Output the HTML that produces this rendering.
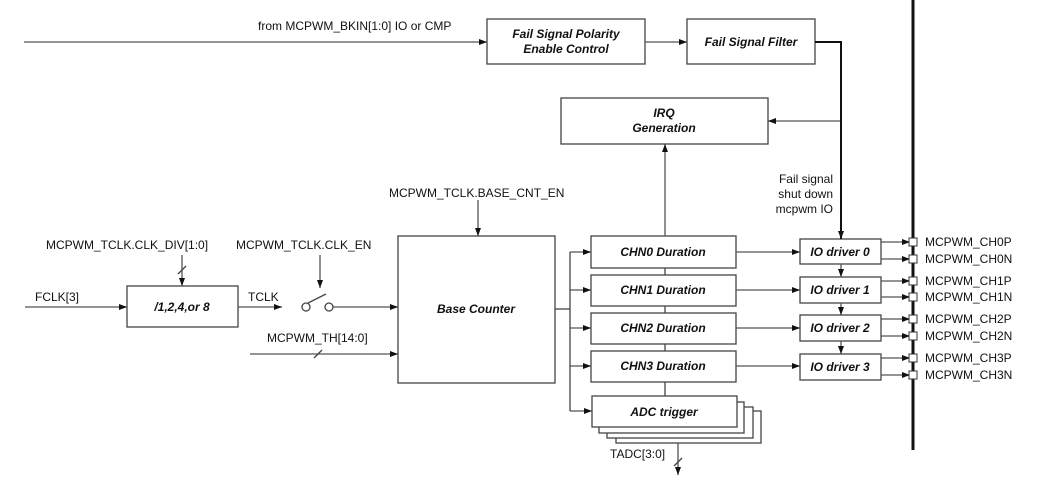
<!DOCTYPE html>
<html><head><meta charset="utf-8"><style>
html,body{margin:0;padding:0;background:#fff}
svg{display:block}
text{font-family:"Liberation Sans",Arial,sans-serif;font-size:12px;fill:#111}
.b{font-weight:bold;font-style:italic;text-anchor:middle}
</style></head><body>
<svg width="1050" height="484" viewBox="0 0 1050 484" xmlns="http://www.w3.org/2000/svg">
<defs><marker id="a" markerWidth="8" markerHeight="6" refX="8" refY="3" orient="auto" markerUnits="userSpaceOnUse"><path d="M0,0 L8,3 L0,6 z" fill="#111"/></marker></defs>
<g fill="#fff" stroke="#444" stroke-width="1.3">
<rect x="487" y="19" width="158" height="45"/>
<rect x="687" y="19" width="128" height="45"/>
<rect x="561" y="98" width="207" height="46"/>
<rect x="398" y="236" width="157" height="147"/>
<rect x="127" y="286" width="111" height="41"/>
<rect x="591" y="236" width="145" height="32"/>
<rect x="591" y="275" width="145" height="31"/>
<rect x="591" y="313" width="145" height="31"/>
<rect x="591" y="351" width="145" height="31"/>
<rect x="616" y="411" width="145" height="32"/>
<rect x="607" y="407" width="146" height="31"/>
<rect x="599" y="402" width="145" height="31"/>
<rect x="592" y="396" width="145" height="31"/>
<rect x="800" y="239" width="81" height="25"/>
<rect x="800" y="277" width="81" height="26"/>
<rect x="800" y="315" width="81" height="26"/>
<rect x="800" y="354" width="81" height="26"/>
</g>
<line x1="913" y1="0" x2="913" y2="450" stroke="#111" stroke-width="3"/>
<g stroke="#555" stroke-width="1.3" fill="none" marker-end="url(#a)">
<line x1="24" y1="42" x2="487" y2="42"/>
<line x1="645" y1="42" x2="687" y2="42"/>
<line x1="841" y1="121" x2="768" y2="121"/>
<line x1="665" y1="236" x2="665" y2="144"/>
<line x1="478" y1="200" x2="478" y2="236"/>
<line x1="25" y1="307" x2="127" y2="307"/>
<line x1="182" y1="255" x2="182" y2="286"/>
<line x1="238" y1="307" x2="282" y2="307"/>
<line x1="320" y1="255" x2="320" y2="288"/>
<line x1="333" y1="307" x2="398" y2="307"/>
<line x1="250" y1="354" x2="398" y2="354"/>
<line x1="570" y1="252" x2="591" y2="252"/>
<line x1="570" y1="290" x2="591" y2="290"/>
<line x1="570" y1="328" x2="591" y2="328"/>
<line x1="570" y1="366" x2="591" y2="366"/>
<line x1="570" y1="411" x2="592" y2="411"/>
<line x1="736" y1="252" x2="800" y2="252"/>
<line x1="736" y1="290" x2="800" y2="290"/>
<line x1="736" y1="328" x2="800" y2="328"/>
<line x1="736" y1="366" x2="800" y2="366"/>
<line x1="841" y1="264" x2="841" y2="277"/>
<line x1="841" y1="303" x2="841" y2="315"/>
<line x1="841" y1="341" x2="841" y2="354"/>
<line x1="678" y1="443" x2="678" y2="475"/>
<polyline points="881,242 910,242"/>
<polyline points="881,259 910,259"/>
<polyline points="881,281 910,281"/>
<polyline points="881,297 910,297"/>
<polyline points="881,319 910,319"/>
<polyline points="881,336 910,336"/>
<polyline points="881,358 910,358"/>
<polyline points="881,375 910,375"/>
</g>
<polyline points="815,42 841,42 841,239" stroke="#111" stroke-width="2" fill="none" marker-end="url(#a)"/>
<g stroke="#444" stroke-width="1.3" fill="none">
<polyline points="555,309 570,309"/>
<line x1="570" y1="252" x2="570" y2="411"/>
<line x1="665" y1="268" x2="665" y2="275"/>
<line x1="665" y1="306" x2="665" y2="313"/>
<line x1="665" y1="344" x2="665" y2="351"/>
<line x1="665" y1="382" x2="665" y2="396"/>
<line x1="178" y1="274" x2="186" y2="266"/>
<line x1="314" y1="358" x2="322" y2="350"/>
<line x1="674" y1="466" x2="682" y2="458"/>
<circle cx="306" cy="307" r="4" fill="#fff"/>
<circle cx="329" cy="307" r="4" fill="#fff"/>
<line x1="308" y1="303" x2="326" y2="294"/>
</g>
<g fill="#fff" stroke="#333" stroke-width="1">
<rect x="909" y="238" width="8" height="8"/><rect x="909" y="255" width="8" height="8"/>
<rect x="909" y="277" width="8" height="8"/><rect x="909" y="293" width="8" height="8"/>
<rect x="909" y="315" width="8" height="8"/><rect x="909" y="332" width="8" height="8"/>
<rect x="909" y="354" width="8" height="8"/><rect x="909" y="371" width="8" height="8"/>
</g>
<text class="b" x="566" y="38">Fail Signal Polarity</text>
<text class="b" x="566" y="53">Enable Control</text>
<text class="b" x="751" y="46">Fail Signal Filter</text>
<text class="b" x="664" y="117">IRQ</text>
<text class="b" x="664" y="132">Generation</text>
<text class="b" x="476" y="313">Base Counter</text>
<text class="b" x="182" y="311">/1,2,4,or 8</text>
<text class="b" x="663" y="256">CHN0 Duration</text>
<text class="b" x="663" y="294">CHN1 Duration</text>
<text class="b" x="663" y="332">CHN2 Duration</text>
<text class="b" x="663" y="370">CHN3 Duration</text>
<text class="b" x="664" y="416">ADC trigger</text>
<text class="b" x="840" y="256">IO driver 0</text>
<text class="b" x="840" y="294">IO driver 1</text>
<text class="b" x="840" y="332">IO driver 2</text>
<text class="b" x="840" y="371">IO driver 3</text>
<text x="258" y="30">from MCPWM_BKIN[1:0] IO or CMP</text>
<text x="833" y="183" text-anchor="end">Fail signal</text>
<text x="833" y="198" text-anchor="end">shut down</text>
<text x="833" y="213" text-anchor="end">mcpwm IO</text>
<text x="389" y="197">MCPWM_TCLK.BASE_CNT_EN</text>
<text x="46" y="249">MCPWM_TCLK.CLK_DIV[1:0]</text>
<text x="236" y="249">MCPWM_TCLK.CLK_EN</text>
<text x="35" y="301">FCLK[3]</text>
<text x="248" y="301">TCLK</text>
<text x="267" y="342">MCPWM_TH[14:0]</text>
<text x="610" y="458">TADC[3:0]</text>
<text x="925" y="246">MCPWM_CH0P</text>
<text x="925" y="263">MCPWM_CH0N</text>
<text x="925" y="285">MCPWM_CH1P</text>
<text x="925" y="301">MCPWM_CH1N</text>
<text x="925" y="323">MCPWM_CH2P</text>
<text x="925" y="340">MCPWM_CH2N</text>
<text x="925" y="362">MCPWM_CH3P</text>
<text x="925" y="379">MCPWM_CH3N</text>
</svg>
</body></html>
